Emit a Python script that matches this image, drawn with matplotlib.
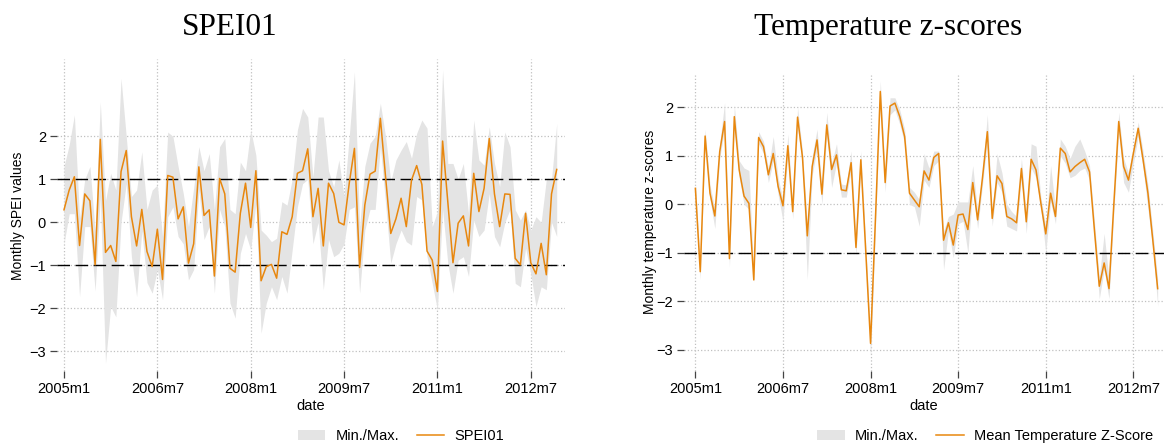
import matplotlib
matplotlib.use('Agg')
import matplotlib.pyplot as plt
from matplotlib.patches import Patch
from matplotlib.lines import Line2D

plt.rcParams['font.family'] = ['Liberation Sans', 'DejaVu Sans']

# months since 2005m1 (2005m1 .. 2012m12)
months = list(range(96))
tick_pos = [0, 18, 36, 54, 72, 90]
tick_labels = ['2005m1', '2006m7', '2008m1', '2009m7', '2011m1', '2012m7']

# SPEI01
spei = [0.29, 0.75, 1.06, -0.54, 0.66, 0.50, -0.99, 1.93, -0.70, -0.54,
        -0.91, 1.18, 1.67, 0.13, -0.55, 0.30, -0.68, -1.03, -0.16, -1.33,
        1.09, 1.05, 0.08, 0.36, -0.95, -0.50, 1.29, 0.16, 0.29, -1.25,
        1.02, 0.66, -1.07, -1.16, 0.21, 0.91, -0.12, 1.20, -1.36, -1.03,
        -0.98, -1.30, -0.22, -0.28, 0.13, 1.14, 1.20, 1.71, 0.13, 0.79,
        -0.55, 0.91, 0.67, 0.00, -0.06, 0.91, 1.72, -1.05, 0.40, 1.12,
        1.19, 2.42, 1.06, -0.26, 0.08, 0.56, -0.10, 0.98, 1.32, 0.88,
        -0.67, -0.88, -1.61, 1.89, 0.48, -0.94, -0.02, 0.15, -0.55, 1.14,
        0.25, 0.79, 1.95, 0.66, -0.10, 0.66, 0.65, -0.84, -0.99, 0.21,
        -0.94, -1.20, -0.49, -1.22, 0.66, 1.23]
spei_max = [1.3, 1.8, 2.5, 0.1, 1.0, 1.3, -0.2, 2.8, 0.5, 1.14,
            0.75, 3.35, 2.0, 0.6, 0.75, 1.64, 0.3, 0.75, 0.87, -0.33,
            2.1, 2.0, 1.3, 0.67, -0.1, 0.8, 1.76, 1.2, 1.6, 0.3,
            1.76, 1.95, 0.3, 0.2, 1.4, 1.2, 2.15, 1.56, -0.18, -0.3,
            -0.45, -0.37, 0.48, 0.4, 1.0, 2.15, 2.65, 2.45, 1.06, 2.45,
            2.45, 1.2, 0.83, 1.45, 0.6, 2.0, 3.5, -0.1, 1.3, 1.84,
            2.0, 2.77, 2.0, 0.95, 1.45, 1.68, 1.88, 1.49, 2.07, 2.38,
            2.19, -0.1, 0.25, 3.54, 1.37, 1.37, 1.0, 1.37, 0.2, 2.38,
            1.45, 1.33, 2.22, 1.37, 0.83, 2.1, 1.76, 0.29, 0.05, 0.29,
            -0.18, 0.13, 0.0, 1.0, 1.0, 2.3]
spei_min = [-0.5, 0.2, 0.2, -1.73, -0.1, -0.1, -1.6, 0.6, -3.28, -1.96,
            -2.2, 0.0, 0.9, -0.8, -1.73, -0.2, -1.4, -1.65, -1.1, -1.8,
            0.13, 0.36, -0.33, -0.5, -1.34, -1.1, 0.75, -0.4, -0.1, -1.65,
            0.3, -0.1, -1.88, -2.23, -0.72, -0.26, -0.64, 0.44, -2.58, -1.88,
            -1.5, -1.8, -1.26, -1.65, -0.64, 0.36, 0.9, 1.0, -0.5, 0.0,
            -1.57, -0.4, -0.8, -0.72, -0.5, 0.3, 0.36, -1.65, -0.18, 0.3,
            0.3, 1.76, 0.44, -0.95, -0.5, -0.18, -0.45, -0.53, 0.6, 0.52,
            -0.8, -1.42, -2.04, 0.3, -0.95, -1.65, -0.88, -0.8, -1.26, 0.05,
            -0.33, -0.18, 0.67, -0.33, -0.57, 0.0, 0.3, -1.42, -1.5, -0.6,
            -1.2, -1.96, -1.5, -1.57, 0.0, -0.33]

# temperature z-scores
temp = [0.33, -1.39, 1.41, 0.23, -0.24, 1.09, 1.71, -1.12, 1.81, 0.71,
        0.17, 0.02, -1.56, 1.38, 1.19, 0.61, 1.05, 0.37, -0.03, 1.21,
        -0.15, 1.80, 0.98, -0.65, 0.78, 1.33, 0.21, 1.64, 0.72, 1.02,
        0.30, 0.28, 0.86, -0.89, 0.92, -0.95, -2.87, -0.30, 2.33, 0.45,
        2.03, 2.09, 1.81, 1.40, 0.23, 0.09, -0.05, 0.69, 0.50, 0.97,
        1.05, -0.74, -0.38, -0.84, -0.22, -0.20, -0.52, 0.45, -0.32, 0.55,
        1.50, -0.29, 0.59, 0.43, -0.25, -0.30, -0.38, 0.74, -0.36, 0.93,
        0.71, 0.02, -0.61, 0.23, -0.25, 1.16, 1.05, 0.67, 0.78, 0.86,
        0.93, 0.67, -0.53, -1.69, -1.21, -1.74, 0.02, 1.71, 0.78, 0.50,
        1.05, 1.57, 0.92, 0.23, -0.74, -1.74]
temp_max = [0.45, -1.2, 1.55, 0.4, -0.1, 1.25, 2.1, -0.95, 2.05, 0.9,
            0.75, 0.7, -1.4, 1.5, 1.3, 0.75, 1.4, 0.55, 0.1, 1.45,
            0.0, 2.0, 1.1, -0.4, 1.0, 1.55, 0.35, 1.9, 0.85, 1.25,
            0.42, 0.4, 1.1, -0.7, 1.1, -0.8, -2.7, -0.1, 2.55, 0.6,
            2.2, 2.2, 1.95, 1.55, 0.35, 0.25, 0.1, 1.05, 0.75, 1.1,
            1.1, -0.55, -0.25, -0.2, 0.05, 0.05, 0.05, 0.8, -0.15, 0.7,
            1.85, -0.15, 1.05, 0.65, 0.0, -0.15, -0.25, 0.95, -0.2, 1.25,
            1.2, 0.15, -0.45, 0.8, -0.1, 1.35, 1.2, 0.95, 1.2, 1.35,
            1.1, 0.8, -0.35, -1.5, -0.6, -1.55, 0.2, 1.9, 0.95, 0.65,
            1.2, 1.7, 1.1, 0.4, -0.55, -1.55]
temp_min = [0.2, -1.55, 1.25, 0.1, -0.5, 0.95, 1.55, -1.3, 1.65, 0.55,
            0.0, -0.1, -1.6, 1.25, 1.05, 0.45, 0.9, 0.2, -0.35, 1.05,
            -0.3, 1.6, 0.8, -1.55, 0.6, 1.15, 0.0, 1.45, 0.35, 0.85,
            0.15, 0.15, 0.7, -1.05, 0.75, -1.1, -3.15, -0.5, 2.15, 0.25,
            1.85, 1.95, 1.65, 1.25, 0.0, -0.05, -0.45, 0.5, 0.35, 0.8,
            0.9, -1.35, -0.55, -1.1, -0.4, -0.35, -1.0, 0.3, -0.5, 0.4,
            1.3, -0.45, 0.45, 0.25, -0.45, -0.5, -0.55, 0.55, -0.6, 0.75,
            0.55, -0.1, -1.0, 0.05, -0.4, 1.0, 0.85, 0.55, 0.6, 0.7,
            0.75, 0.5, -0.7, -1.95, -1.35, -1.95, -0.15, 1.5, 0.45, 0.25,
            0.85, 1.4, 0.75, -0.1, -0.9, -2.1]

W, H = 1166, 443
band_col = '#e4e4e4'
line_col = '#e8870e'
grid_col = '#c0c0c0'

fig = plt.figure(figsize=(W / 100, H / 100), dpi=100)


def px_axes(left, right, top, bottom):
    return fig.add_axes([left / W, 1 - bottom / H, (right - left) / W, (bottom - top) / H])


def style_axes(ax, xlim, ylim, hlines, ylabel, ylab_xy, xlab_y):
    ax.set_xlim(*xlim)
    ax.set_ylim(*ylim)
    for s in ax.spines.values():
        s.set_visible(False)
    ax.set_xticks(tick_pos)
    ax.set_xticklabels(tick_labels)
    ax.set_yticks([-3, -2, -1, 0, 1, 2])
    ax.tick_params(axis='both', colors='#444444', labelcolor='black',
                   labelsize=10.5, length=5, width=0.9, pad=3)
    ax.grid(True, color=grid_col, linestyle=':', linewidth=0.9)
    ax.set_axisbelow(True)
    for h in hlines:
        ax.axhline(h, color='black', linestyle=(0, (9, 4)), linewidth=1.0, zorder=3)
    ax.set_ylabel(ylabel, fontsize=10)
    ax.yaxis.set_label_coords(*ylab_xy)
    ax.set_xlabel('date', fontsize=10.5)
    ax.xaxis.set_label_coords(0.5, xlab_y)


# left panel: SPEI01
ax1 = px_axes(57, 565, 59, 371)
ax1.fill_between(months, spei_min, spei_max, color=band_col, linewidth=0, zorder=2)
ax1.plot(months, spei, color=line_col, linewidth=1.1, zorder=4)
style_axes(ax1, (-1.35, 96.6), (-3.46, 3.80), [1, -1], 'Monthly SPEI values',
           (-0.063, 0.497), -0.09)

# right panel: temperature z-scores
ax2 = px_axes(684, 1164, 75, 371)
ax2.fill_between(months, temp_min, temp_max, color=band_col, linewidth=0, zorder=2)
ax2.plot(months, temp, color=line_col, linewidth=1.1, zorder=4)
style_axes(ax2, (-2.34, 96.3), (-3.44, 2.67), [-1], 'Monthly temperature z-scores',
           (-0.057, 0.503), -0.095)

# titles
fig.text(230 / W, 1 - 35 / H, 'SPEI01', family=['Liberation Serif'], fontsize=22.5,
         ha='center', va='baseline')
fig.text(888 / W, 1 - 35 / H, 'Temperature z-scores', family=['Liberation Serif'],
         fontsize=22.5, ha='center', va='baseline')

# legends
for cx, lab in [(401, 'SPEI01'), (985, 'Mean Temperature Z-Score')]:
    handles = [Patch(facecolor=band_col, edgecolor='none'),
               Line2D([0], [0], color=line_col, linewidth=1.1)]
    fig.legend(handles, ['Min./Max.', lab], loc='center',
               bbox_to_anchor=(cx / W, 1 - 436 / H), ncol=2, frameon=False,
               fontsize=10.5, handlelength=1.9, handletextpad=0.7,
               columnspacing=1.2)

fig.savefig('out.png', dpi=100)
